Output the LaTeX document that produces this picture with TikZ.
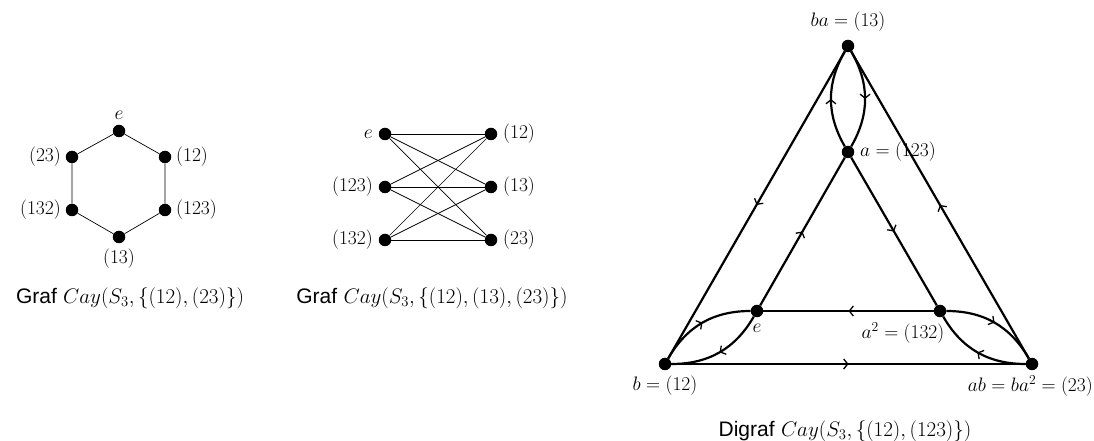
\RequirePackage{fix-cm}
\documentclass[tikz,border=0pt]{standalone}
\usepackage{fontspec}
\newfontfamily\capfont{Liberation Sans}
\usetikzlibrary{decorations.markings,arrows.meta}
\begin{document}
\begin{tikzpicture}[x=1pt,y=1pt,
  dot/.style={circle,fill=black,inner sep=0pt,minimum size=12.5pt},
  lbl/.style={inner sep=1pt,font=\fontsize{19.5}{23}\selectfont},
  thinedge/.style={line width=0.7pt},
  darc/.style={line width=2.2pt,postaction={decorate},
    decoration={markings,mark=at position 0.5 with {\arrow{Straight Barb[length=4pt,width=10pt,line width=1.3pt]}}}},
  captext/.style={inner sep=0pt,font=\fontsize{21}{25}\selectfont}]
\path[use as bounding box] (0,0) rectangle (1094,441);

% ---------- hexagon ----------
\node[dot] (he)   at (119,310) {};
\node[dot] (h12)  at (165,284) {};
\node[dot] (h123) at (165,231) {};
\node[dot] (h13)  at (119,204) {};
\node[dot] (h132) at (72,231) {};
\node[dot] (h23)  at (72,284) {};
\draw[thinedge] (he) -- (h12) -- (h123) -- (h13) -- (h132) -- (h23) -- (he);
\node[lbl] (lhe)   at (119,326) {$e$};
\node[lbl,anchor=west] (lh12)  at (175,284) {$(12)$};
\node[lbl,anchor=west] (lh123) at (175,231) {$(123)$};
\node[lbl] (lh13)  at (119,182) {$(13)$};
\node[lbl,anchor=east] (lh132) at (62,231) {$(132)$};
\node[lbl,anchor=east] (lh23)  at (62,284) {$(23)$};
\node[captext] (c1) at (130,143) {{\capfont Graf} $Cay(S_3,\{(12),(23)\})$};

% ---------- bipartite ----------
\node[dot] (be)   at (385,307) {};
\node[dot] (b123) at (385,254) {};
\node[dot] (b132) at (385,201) {};
\node[dot] (b12)  at (491,307) {};
\node[dot] (b13)  at (491,254) {};
\node[dot] (b23)  at (491,201) {};
\foreach \l in {be,b123,b132}{
  \foreach \r in {b12,b13,b23}{
    \draw[thinedge] (\l) -- (\r);
  }
}
\node[lbl,anchor=east] (lbe)   at (374,307) {$e$};
\node[lbl,anchor=east] (lb123) at (374,254) {$(123)$};
\node[lbl,anchor=east] (lb132) at (374,201) {$(132)$};
\node[lbl,anchor=west] (lb12)  at (502,307) {$(12)$};
\node[lbl,anchor=west] (lb13)  at (502,254) {$(13)$};
\node[lbl,anchor=west] (lb23)  at (502,201) {$(23)$};
\node[captext] (c2) at (432,143) {{\capfont Graf} $Cay(S_3,\{(12),(13),(23)\})$};

% ---------- digraph ----------
\node[dot] (dba) at (848,395) {};
\node[dot] (da)  at (848,289) {};
\node[dot] (de)  at (757,130) {};
\node[dot] (da2) at (940,130) {};
\node[dot] (db)  at (665,77) {};
\node[dot] (dab) at (1032,77) {};

\draw[darc] (dba) -- (db);
\draw[darc] (dab) -- (dba);
\draw[darc] (db) -- (dab);
\draw[darc] (da2) -- (de);
\draw[darc] (de) -- (da);
\draw[darc] (da) -- (da2);
\draw[darc] (da) to[bend left=30] (dba);
\draw[darc] (dba) to[bend left=30] (da);
\draw[darc] (db) to[out=60,in=180] (de);
\draw[darc] (de) to[out=-120,in=0] (db);
\draw[darc] (da2) to[out=0,in=120] (dab);
\draw[darc] (dab) to[out=180,in=-60] (da2);

\node[lbl] (ldba) at (848,419) {$ba=(13)$};
\node[lbl,anchor=west] (lda) at (859,289) {$a=(123)$};
\node[lbl] (lde) at (757,113) {$e$};
\node[lbl] (lda2) at (903,108) {$a^2=(132)$};
\node[lbl] (ldb) at (665,55) {$b=(12)$};
\node[lbl,anchor=east] (ldab) at (1094,55) {$ab=ba^2=(23)$};
\node[captext] (c3) at (845,10) {{\capfont Digraf} $Cay(S_3,\{(12),(123)\})$};
\end{tikzpicture}
\end{document}
